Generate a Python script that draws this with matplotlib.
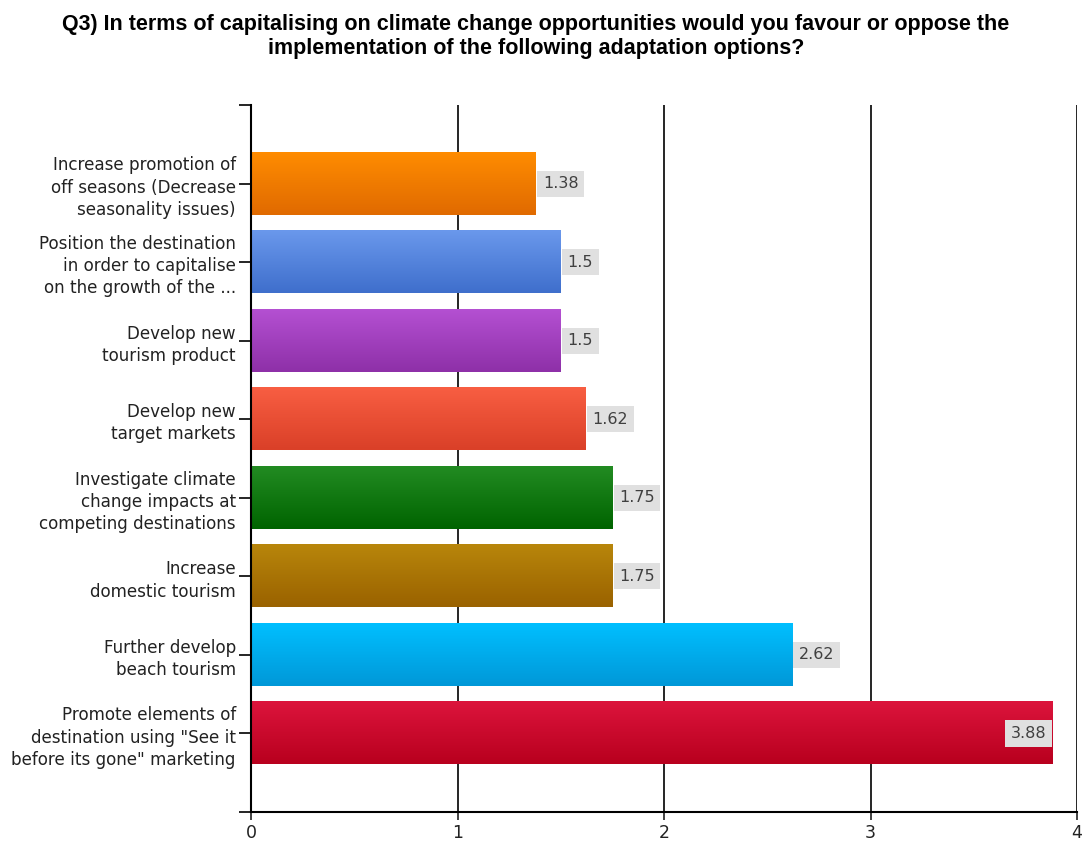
import numpy as np
import matplotlib.pyplot as plt
from matplotlib.colors import LinearSegmentedColormap

# Survey answers, top to bottom
categories = [
    "Increase promotion of\noff seasons (Decrease\nseasonality issues)",
    "Position the destination\nin order to capitalise\non the growth of the ...",
    "Develop new\ntourism product",
    "Develop new\ntarget markets",
    "Investigate climate\nchange impacts at\ncompeting destinations",
    "Increase\ndomestic tourism",
    "Further develop\nbeach tourism",
    "Promote elements of\ndestination using \"See it\nbefore its gone\" marketing",
]
values = [1.38, 1.5, 1.5, 1.62, 1.75, 1.75, 2.62, 3.88]
value_labels = ["1.38", "1.5", "1.5", "1.62", "1.75", "1.75", "2.62", "3.88"]
x_ticks = [0, 1, 2, 3, 4]

# gradient colours (top, bottom) for each bar
top_colors = ["#FF8C00", "#6A98EC", "#B450D2", "#F85E42", "#228B22", "#B8860B", "#00BFFF", "#DC143C"]
bottom_colors = ["#E06A00", "#3F6FCC", "#8E30A8", "#DA4028", "#006400", "#9A6200", "#0098D8", "#B8001E"]

title = ("Q3) In terms of capitalising on climate change opportunities would you favour or oppose the\n"
         "implementation of the following adaptation options?")

fig = plt.figure(figsize=(10.83, 8.41), dpi=100)
ax = fig.add_axes([0.2318, 0.0345, 0.7627, 0.8406])

pos = np.arange(1, len(values) + 1)
bars = ax.barh(pos, values, height=0.79, color="none", edgecolor="none", zorder=3)

# fill each bar with a vertical gradient
grad = np.linspace(0, 1, 100).reshape(-1, 1)
for bar, c1, c2 in zip(bars, top_colors, bottom_colors):
    cmap = LinearSegmentedColormap.from_list("g", [c1, c2])
    x0, y0 = bar.get_x(), bar.get_y()
    w, h = bar.get_width(), bar.get_height()
    # y axis is inverted: y0 is the top of the bar on screen
    ax.imshow(grad, cmap=cmap, aspect="auto", extent=[x0, x0 + w, y0 + h, y0],
              zorder=3, interpolation="bilinear")

# value labels in grey boxes
box = dict(facecolor="#e0e0e0", edgecolor="none", pad=4)
for v, lab, p in zip(values, value_labels, pos):
    if v > 3.5:
        ax.text(v - 0.03, p, lab, ha="right", va="center", fontsize=11.5, color="#404040",
                bbox=box, zorder=5)
    else:
        ax.text(v + 0.033, p, lab, ha="left", va="center", fontsize=11.5, color="#404040",
                bbox=box, zorder=5)

ax.set_xlim(0, 4)
ax.set_ylim(len(values) + 1, 0)
ax.set_xticks(x_ticks)
ax.set_xticklabels([str(t) for t in x_ticks])
ax.set_yticks(list(range(0, len(values) + 2)))
ax.set_yticklabels([""] + categories + [""], fontsize=12.1, color="#222222", linespacing=1.3)

ax.grid(axis="x", color="black", linewidth=1.2, zorder=1)
ax.set_axisbelow(True)
for s in ["top", "right"]:
    ax.spines[s].set_visible(False)
for s in ["left", "bottom"]:
    ax.spines[s].set_linewidth(1.5)
    ax.spines[s].set_zorder(4)
ax.tick_params(axis="y", length=9, width=1.2, pad=2)
ax.tick_params(axis="x", length=6, width=1.2, labelsize=12.5, pad=3, colors="#222222")

fig.text(0.495, 0.983, title, ha="center", va="top", fontsize=15.5, fontweight="bold",
         family="Liberation Sans", linespacing=1.15)

fig.savefig("out.png", dpi=100)
